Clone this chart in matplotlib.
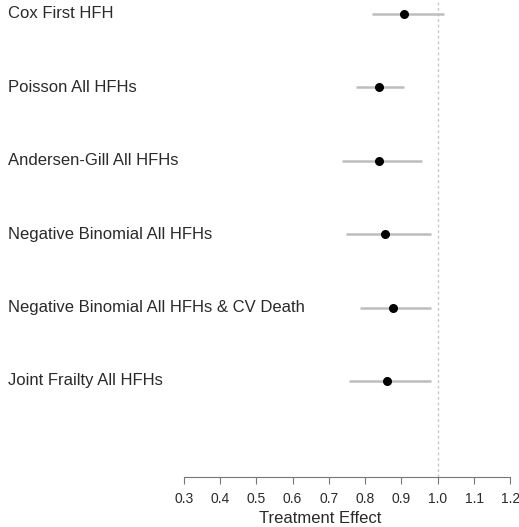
import matplotlib.pyplot as plt

# Modelle und Schätzungen (Treatment Effect mit Intervallen)
models = [
    'Cox First HFH',
    'Poisson All HFHs',
    'Andersen-Gill All HFHs',
    'Negative Binomial All HFHs',
    'Negative Binomial All HFHs & CV Death',
    'Joint Frailty All HFHs',
]
estimate = [0.908, 0.837, 0.839, 0.855, 0.877, 0.859]
lower = [0.818, 0.775, 0.735, 0.746, 0.786, 0.755]
upper = [1.017, 0.908, 0.957, 0.980, 0.980, 0.981]
ticks = [0.3, 0.4, 0.5, 0.6, 0.7, 0.8, 0.9, 1.0, 1.1, 1.2]

plt.rcParams['font.family'] = ['Liberation Sans', 'DejaVu Sans']

fig = plt.figure(figsize=(5.19, 5.27), dpi=100)
ax = fig.add_axes([0, 50 / 527, 1, 477 / 527])

n = len(models)
ypos = [n - i for i in range(n)]

ax.axvline(1.0, color='#c8c8c8', lw=1, ls=(0, (2, 2)), zorder=1)
ax.hlines(ypos, lower, upper, color='#bdbdbd', lw=1.8, zorder=2)
ax.scatter(estimate, ypos, s=30, color='black', zorder=3)

for y, name in zip(ypos, models):
    ax.text(-0.185, y, name, ha='left', va='center', fontsize=12, color='#2a2a2a')

ax.set_xlim(0.3 - 183.7 / 363, 0.3 + 335.3 / 363)
ax.set_ylim(n - 463 / 73.4, n + 14 / 73.4)

for s in ['top', 'right', 'left']:
    ax.spines[s].set_visible(False)
ax.spines['bottom'].set_bounds(0.3, 1.2)
ax.spines['bottom'].set_color('#777777')
ax.set_yticks([])
ax.set_xticks(ticks)
ax.set_xticklabels([f'{t:.1f}' for t in ticks])
ax.tick_params(axis='x', length=5, color='#777777', labelsize=10, labelcolor='#2a2a2a', pad=6)
ax.text(0.675, -0.088, 'Treatment Effect', transform=ax.get_xaxis_transform(),
        ha='center', va='center', fontsize=12, color='#2a2a2a')

fig.savefig('out.png', dpi=100)
